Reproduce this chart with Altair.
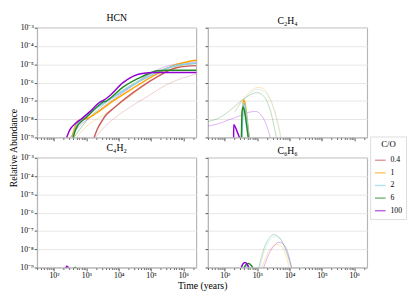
import altair as alt
import pandas as pd

# ---------------- data (log10 time, log10 abundance) ----------------
CO_LEVELS = ["0.4", "1", "2", "6", "100"]
CO_COLORS = ["#cd5c5c", "#ffa500", "#87ceeb", "#228b22", "#9400d3"]
SPECIES = ["HCN", "C₂H₄", "C₄H₂", "C₆H₆"]

# HCN thick
HCN_04_T = [3.24, 3.35, 3.5, 3.58, 3.83, 4.42, 5.12, 5.81, 6.45]
HCN_04_Y = [-9, -8.5, -8.05, -7.83, -7.42, -6.58, -5.75, -5.17, -5.07]
HCN_1_T = [2.55, 2.65, 2.75, 2.9, 3.04, 3.24, 3.83, 4.42, 5.12, 5.81, 6.45]
HCN_1_Y = [-9, -8.4, -8.08, -8.0, -7.95, -7.75, -7.0, -6.33, -5.58, -5.0, -4.75]
HCN_2_T = [2.58, 2.7, 2.85, 3.04, 3.43, 3.83, 4.42, 5.12, 5.81, 6.45]
HCN_2_Y = [-9, -8.35, -8.0, -7.7, -7.25, -6.8, -6.15, -5.5, -5.05, -4.93]
HCN_6_T = [2.59, 2.66, 2.74, 2.9, 3.04, 3.43, 3.52, 3.6, 3.7, 4.13, 4.72, 5.21, 5.6, 6.45]
HCN_6_Y = [-9, -8.6, -8.33, -8.05, -7.83, -7.17, -7.05, -7.02, -6.9, -6.25, -5.67, -5.35, -5.33, -5.33]
HCN_100_T = [2.39, 2.5, 2.65, 2.84, 3.1, 3.43, 3.55, 3.7, 4.13, 4.72, 5.12, 5.4, 6.45]
HCN_100_Y = [-9, -8.55, -8.25, -8.0, -7.6, -7.05, -6.95, -6.75, -6.0, -5.5, -5.45, -5.45, -5.45]
# HCN faint
HCN_04F_T = [3.28, 3.6, 3.83, 4.3, 4.82, 5.5, 6.45]
HCN_04F_Y = [-9, -8.35, -8.0, -7.4, -6.83, -6.1, -5.5]
HCN_1F_T = [2.7, 3.0, 3.5, 4.0, 4.5, 5.0, 5.5, 6.45]
HCN_1F_Y = [-9, -8.4, -7.8, -7.2, -6.55, -5.9, -5.35, -4.9]
HCN_2F_T = [2.6, 2.9, 3.3, 3.8, 4.4, 5.0, 5.6, 6.45]
HCN_2F_Y = [-9, -8.3, -7.6, -6.95, -6.2, -5.6, -5.15, -4.95]
HCN_6F_T = [2.62, 3.0, 3.5, 4.0, 4.5, 5.0, 5.5, 6.45]
HCN_6F_Y = [-9, -8.1, -7.25, -6.55, -6.0, -5.5, -5.2, -4.95]
HCN_100F_T = [2.5, 2.8, 3.2, 3.7, 4.3, 4.9, 5.4, 6.45]
HCN_100F_Y = [-9, -8.35, -7.8, -7.1, -6.35, -5.6, -5.15, -4.85]

# C2H4 thick
C2H4_1_T = [2.52, 2.555, 2.58, 2.62, 2.68, 2.75]
C2H4_1_Y = [-9, -7.3, -6.95, -7.1, -7.9, -9]
C2H4_2_T = [2.53, 2.56, 2.585, 2.62, 2.68, 2.74]
C2H4_2_Y = [-9, -7.4, -7.1, -7.3, -8.0, -9]
C2H4_6_T = [2.51, 2.53, 2.56, 2.6, 2.66, 2.72]
C2H4_6_Y = [-9, -7.6, -7.33, -7.5, -8.2, -9]
C2H4_100_T = [2.27, 2.271, 2.3, 2.36, 2.45]
C2H4_100_Y = [-9, -8.3, -8.35, -8.6, -9]
# C2H4 faint
C2H4_1F_T = [2.3, 2.5, 2.75, 3.0, 3.15, 3.35, 3.55, 3.74]
C2H4_1F_Y = [-7.6, -7.05, -6.55, -6.27, -6.3, -6.7, -7.6, -9]
C2H4_2F_T = [2.3, 2.5, 2.75, 3.0, 3.15, 3.35, 3.55, 3.72]
C2H4_2F_Y = [-7.65, -7.1, -6.65, -6.37, -6.42, -6.8, -7.7, -9]
C2H4_6F_T = [1.47, 1.8, 2.1, 2.45, 2.75, 3.0, 3.2, 3.4, 3.59]
C2H4_6F_Y = [-8.13, -7.95, -7.6, -7.08, -6.7, -6.55, -6.75, -7.5, -9]
C2H4_100F_T = [1.47, 1.8, 2.1, 2.45, 2.75, 2.95, 3.15, 3.3, 3.4]
C2H4_100F_Y = [-8.38, -8.25, -8.05, -7.83, -7.62, -7.58, -7.85, -8.4, -9]

# C4H2 thick
C4H2_6_T = [2.62, 2.65, 2.68]
C4H2_6_Y = [-9.05, -8.98, -9.05]
C4H2_100_T = [2.36, 2.39, 2.42, 2.46]
C4H2_100_Y = [-9.1, -8.93, -8.95, -9.1]

# C6H6 thick
C6H6_2_T = [2.58, 2.66, 2.74]
C6H6_2_Y = [-9, -8.9, -9]
C6H6_6_T = [2.6, 2.65, 2.74, 2.81, 2.86]
C6H6_6_Y = [-9, -8.85, -8.78, -8.88, -9]
C6H6_100_T = [2.51, 2.55, 2.63, 2.7, 2.74]
C6H6_100_Y = [-9, -8.82, -8.73, -8.85, -9]
# C6H6 faint
C6H6_1F_T = [3.15, 3.3, 3.45, 3.6, 3.75, 3.9, 3.99]
C6H6_1F_Y = [-9, -8.3, -7.9, -7.73, -7.85, -8.4, -9]
C6H6_2F_T = [3.08, 3.22, 3.37, 3.52, 3.68, 3.87, 4.06]
C6H6_2F_Y = [-9, -8.1, -7.55, -7.3, -7.4, -7.95, -9]
C6H6_6F_T = [3.05, 3.2, 3.35, 3.49, 3.65, 3.85, 4.06]
C6H6_6F_Y = [-9, -8.0, -7.45, -7.2, -7.3, -7.9, -9]
C6H6_100F_T = [3.2, 3.35, 3.5, 3.67, 3.82, 3.95, 4.06]
C6H6_100F_Y = [-9, -8.3, -7.85, -7.62, -7.75, -8.2, -9]

SERIES = [
    ("HCN", "0.4", "thick", HCN_04_T, HCN_04_Y),
    ("HCN", "1", "thick", HCN_1_T, HCN_1_Y),
    ("HCN", "2", "thick", HCN_2_T, HCN_2_Y),
    ("HCN", "6", "thick", HCN_6_T, HCN_6_Y),
    ("HCN", "100", "thick", HCN_100_T, HCN_100_Y),
    ("HCN", "0.4", "faint", HCN_04F_T, HCN_04F_Y),
    ("HCN", "1", "faint", HCN_1F_T, HCN_1F_Y),
    ("HCN", "2", "faint", HCN_2F_T, HCN_2F_Y),
    ("HCN", "6", "faint", HCN_6F_T, HCN_6F_Y),
    ("HCN", "100", "faint", HCN_100F_T, HCN_100F_Y),
    ("C₂H₄", "1", "thick", C2H4_1_T, C2H4_1_Y),
    ("C₂H₄", "2", "thick", C2H4_2_T, C2H4_2_Y),
    ("C₂H₄", "6", "thick", C2H4_6_T, C2H4_6_Y),
    ("C₂H₄", "100", "thick", C2H4_100_T, C2H4_100_Y),
    ("C₂H₄", "1", "faint", C2H4_1F_T, C2H4_1F_Y),
    ("C₂H₄", "2", "faint", C2H4_2F_T, C2H4_2F_Y),
    ("C₂H₄", "6", "faint", C2H4_6F_T, C2H4_6F_Y),
    ("C₂H₄", "100", "faint", C2H4_100F_T, C2H4_100F_Y),
    ("C₄H₂", "6", "thick", C4H2_6_T, C4H2_6_Y),
    ("C₄H₂", "100", "thick", C4H2_100_T, C4H2_100_Y),
    ("C₆H₆", "2", "thick", C6H6_2_T, C6H6_2_Y),
    ("C₆H₆", "6", "thick", C6H6_6_T, C6H6_6_Y),
    ("C₆H₆", "100", "thick", C6H6_100_T, C6H6_100_Y),
    ("C₆H₆", "1", "faint", C6H6_1F_T, C6H6_1F_Y),
    ("C₆H₆", "2", "faint", C6H6_2F_T, C6H6_2F_Y),
    ("C₆H₆", "6", "faint", C6H6_6F_T, C6H6_6F_Y),
    ("C₆H₆", "100", "faint", C6H6_100F_T, C6H6_100F_Y),
]

rows = []
for sp, co, kind, ts, ys in SERIES:
    for i, (lt, ly) in enumerate(zip(ts, ys)):
        rows.append({"species": sp, "co": co, "kind": kind, "order": i,
                     "t": 10 ** lt, "y": 10 ** ly})
df = pd.DataFrame(rows)

# ---------------- axes helpers ----------------
X_DOMAIN = [30, 2.5e6]
Y_DOMAIN = [1e-9, 1e-3]
X_MAJOR = [100, 1000, 10000, 100000, 1000000]
X_SUP = ["10²", "10³", "10⁴", "10⁵", "10⁶"]
X_MINOR = [k * 10 ** d for d in range(1, 7) for k in range(2, 10)
           if X_DOMAIN[0] <= k * 10 ** d <= X_DOMAIN[1]]
Y_MAJOR = [1e-9, 1e-8, 1e-7, 1e-6, 1e-5, 1e-4, 1e-3]
Y_SUP = ["10⁻⁹", "10⁻⁸", "10⁻⁷", "10⁻⁶", "10⁻⁵", "10⁻⁴", "10⁻³"]

x_label_expr = " : ".join(f"datum.value == {v} ? '{s}'" for v, s in zip(X_MAJOR, X_SUP)) + " : ''"
x_major_test = " || ".join(f"datum.value == {v}" for v in X_MAJOR)
y_label_expr = " : ".join(f"datum.value > {v * 0.5} && datum.value < {v * 2} ? '{s}'"
                          for v, s in zip(Y_MAJOR, Y_SUP)) + " : ''"

W, H = 164, 113
VSPACE = 21
FONT = "Liberation Serif"
GRAY = "#b5b5b5"

legend = alt.Legend(title="C/O", orient="none", legendX=2 * W + 15, legendY=112,
                    symbolType="stroke", symbolStrokeWidth=1.5, symbolOpacity=0.6,
                    symbolSize=120, labelFontSize=8, titleFontSize=9,
                    titleFontWeight="normal", titleAnchor="middle",
                    strokeColor="#dddddd", padding=4, rowPadding=2)
color_scale = alt.Scale(domain=CO_LEVELS, range=CO_COLORS)
color = alt.Color("co:N", scale=color_scale, legend=legend, title="C/O")


def panel(sp, show_xlab, show_ylab, ytitle=None, xtitle=None):
    sub = df[df["species"] == sp]
    xaxis = alt.Axis(values=sorted(X_MAJOR + X_MINOR), labelExpr=x_label_expr,
                     labels=show_xlab, grid=False,
                     tickSize={"condition": {"test": x_major_test, "value": 3.5}, "value": 2},
                     domainColor=GRAY, tickColor="#555555", labelFontSize=8,
                     labelPadding=1, labelFlush=False,
                     title=xtitle if xtitle else None,
                     **({"titleX": W + 6, "titleFontSize": 10, "titleFontWeight": "normal",
                         "titlePadding": 1} if xtitle else {}))
    yaxis = alt.Axis(values=Y_MAJOR, labelExpr=y_label_expr, labels=show_ylab,
                     grid=True, gridColor="#e6e6e6", tickSize=3, tickColor="#555555",
                     domainColor=GRAY, labelFontSize=8, labelPadding=1,
                     title=ytitle if ytitle else None,
                     **({"titleY": H + VSPACE / 2, "titleFontSize": 10,
                         "titleFontWeight": "normal", "titlePadding": 1} if ytitle else {}))
    x = alt.X("t:Q", scale=alt.Scale(type="log", domain=X_DOMAIN), axis=xaxis)
    y = alt.Y("y:Q", scale=alt.Scale(type="log", domain=Y_DOMAIN), axis=yaxis)
    faint = alt.Chart(sub).transform_filter(alt.datum.kind == "faint").mark_line(
        clip=True, strokeWidth=1, opacity=0.3, interpolate="monotone"
    ).encode(x=x, y=y, order="order:Q", color=color)
    thick = alt.Chart(sub).transform_filter(alt.datum.kind == "thick").mark_line(
        clip=True, strokeWidth=1.5, interpolate="monotone"
    ).encode(x=x, y=y, order="order:Q", color=color)
    return alt.layer(faint, thick).properties(
        width=W, height=H,
        title=alt.TitleParams(sp, fontSize=10, fontWeight="normal", offset=1))


chart = alt.concat(
    panel("HCN", False, True, ytitle="Relative Abundance"),
    panel("C₂H₄", False, False),
    panel("C₄H₂", True, True, xtitle="Time (years)"),
    panel("C₆H₆", True, False),
    columns=2, spacing={"row": VSPACE, "column": 12}, bounds="flush",
).properties(
    padding={"left": 0, "top": 0, "right": 0, "bottom": 0}
).configure(font=FONT).configure_view(stroke=GRAY, strokeWidth=1.2).configure_axis(
    labelFont=FONT, titleFont=FONT, labelColor="#000000", titleColor="#000000"
).configure_title(font=FONT, color="#000000").configure_legend(
    labelFont=FONT, titleFont=FONT)

chart.save("out.html", embed_options={"renderer": "svg", "actions": False})
